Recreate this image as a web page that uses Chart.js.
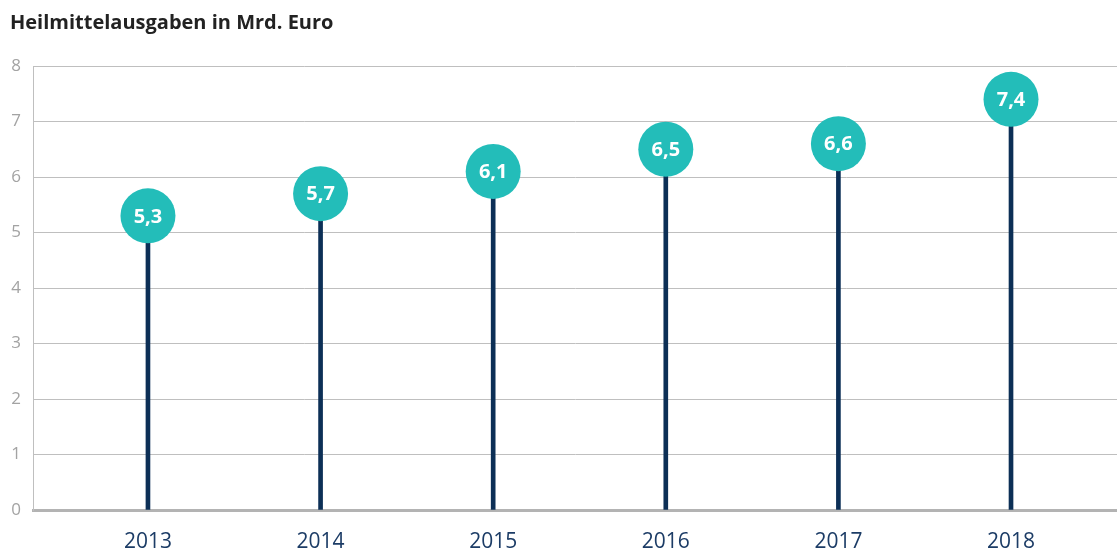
<!DOCTYPE html>
<html>
<head>
<meta charset="utf-8">
<script src="https://cdn.jsdelivr.net/npm/chart.js@4.4.0/dist/chart.umd.min.js"></script>
<style>
  html, body { margin: 0; padding: 0; background: #ffffff; }
  #wrap { width: 1117px; height: 549px; position: relative; }
</style>
</head>
<body>
<div id="wrap"><canvas id="c" width="1117" height="549"></canvas></div>
<script>
const years = ['2013', '2014', '2015', '2016', '2017', '2018'];
const values = [5.3, 5.7, 6.1, 6.5, 6.6, 7.4];
const valueLabels = ['5,3', '5,7', '6,1', '6,5', '6,6', '7,4'];
const yTicks = [0, 1, 2, 3, 4, 5, 6, 7, 8];
const titleText = 'Heilmittelausgaben in Mrd. Euro';

const points = values.map((v, i) => ({ x: i, y: v }));
const FONT = '"Open Sans", Lato, sans-serif';

const labelPlugin = {
  id: 'bubbleLabels',
  afterDatasetsDraw(chart) {
    const meta = chart.getDatasetMeta(1);
    const ctx = chart.ctx;
    ctx.save();
    ctx.fillStyle = '#ffffff';
    ctx.font = 'bold 20px ' + FONT;
    ctx.textAlign = 'center';
    ctx.textBaseline = 'middle';
    meta.data.forEach((pt, i) => {
      ctx.fillText(valueLabels[i], pt.x, pt.y + 1);
    });
    ctx.restore();
  }
};

new Chart(document.getElementById('c'), {
  data: {
    datasets: [
      {
        type: 'bar',
        data: points,
        backgroundColor: '#0c2f56',
        barThickness: 4,
        order: 2
      },
      {
        type: 'scatter',
        data: points,
        pointRadius: 27.5,
        pointHoverRadius: 27.5,
        backgroundColor: '#23bdb9',
        borderWidth: 0,
        clip: false,
        order: 1
      }
    ]
  },
  options: {
    responsive: false,
    animation: false,
    layout: { autoPadding: false, padding: { left: 10, right: 0, top: 0, bottom: 0 } },
    plugins: {
      legend: { display: false },
      tooltip: { enabled: false },
      title: {
        display: true,
        text: titleText,
        align: 'start',
        color: '#222222',
        font: { family: FONT, size: 20, weight: 'bold' },
        padding: { top: 11, bottom: 31 }
      }
    },
    scales: {
      x: {
        type: 'linear',
        offset: false,
        min: -0.666,
        max: 5.614,
        afterBuildTicks(scale) {
          scale.ticks = years.map((_, i) => ({ value: i }));
        },
        afterFit(scale) {
          scale.height = 39;
          scale.paddingLeft = 0;
          scale.paddingRight = 0;
        },
        grid: { display: false, drawTicks: false, offset: false },
        border: { display: true, color: '#b3b3b3', width: 3 },
        ticks: {
          padding: 19,
          color: '#1c3c66',
          font: { family: FONT, size: 21 },
          callback: (v) => years[v] ?? ''
        }
      },
      y: {
        min: 0,
        max: 8,
        afterBuildTicks(scale) {
          scale.ticks = yTicks.map(v => ({ value: v }));
        },
        afterFit(scale) { scale.width = 23; },
        grid: { color: '#bfbfbf', lineWidth: 1, drawTicks: false },
        border: { display: true, color: '#bfbfbf', width: 1 },
        ticks: {
          padding: 12,
          color: '#a3a3a3',
          font: { family: FONT, size: 17 }
        }
      }
    }
  },
  plugins: [labelPlugin]
});
</script>
</body>
</html>
